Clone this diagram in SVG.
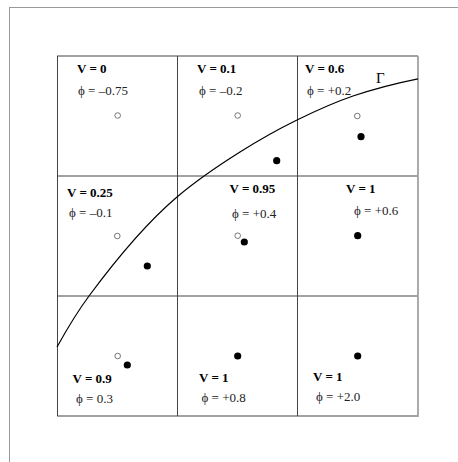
<svg xmlns="http://www.w3.org/2000/svg" width="458" height="462" viewBox="0 0 458 462">
<style>
.v{font-weight:bold;font-size:13px;fill:#000}
.p{font-size:13px;fill:#222}
.g{stroke:#444;stroke-width:1;fill:none}
.o{fill:#fff;stroke:#555;stroke-width:0.8}
.f{fill:#000}
</style>
<rect width="458" height="462" fill="#fff"/>
<g id="frame">
<line x1="9" y1="7.5" x2="458" y2="7.5" stroke="#999" stroke-width="1"/>
<line x1="9.5" y1="7" x2="9.5" y2="462" stroke="#999" stroke-width="1"/>
</g>
<g id="grid">
<line class="g" x1="57" y1="56" x2="418" y2="56" stroke="#888"/>
<line class="g" x1="57" y1="176" x2="418" y2="176"/>
<line class="g" x1="57" y1="296" x2="418" y2="296"/>
<line class="g" x1="57" y1="416" x2="418" y2="416"/>
<line class="g" x1="57.5" y1="56" x2="57.5" y2="416"/>
<line class="g" x1="177.5" y1="56" x2="177.5" y2="416"/>
<line class="g" x1="297.5" y1="56" x2="297.5" y2="416"/>
<line x1="418" y1="56" x2="418" y2="417" stroke="#aaa" stroke-width="2"/>
</g>
<g id="curve">
<path d="M57,347 C67.67,327.8 78.33,310.4 89,296 C118.33,256.4 147.67,221.9 177,197 C198,179.15 219,165.2 240,152 C259,140 278,129.3 297,120 C315.67,110.85 334.33,102.35 353,96 C374.33,88.75 395.67,83.27 418,78.8" fill="none" stroke="#000" stroke-width="1.2"/>
<text x="376" y="83" font-family="Liberation Serif, serif" font-size="15" fill="#000">Γ</text>
</g>
<g font-family="Liberation Serif, serif">
<g id="cell-0-0">
<text class="v" x="77" y="73">V = 0</text>
<text class="p" x="78" y="95">ϕ = –0.75</text>
<circle class="o" cx="117.7" cy="115.5" r="2.8"/>
</g>
<g id="cell-1-0">
<text class="v" x="197" y="73">V = 0.1</text>
<text class="p" x="199" y="95">ϕ = –0.2</text>
<circle class="o" cx="237.7" cy="115.5" r="2.8"/>
<circle class="f" cx="276.7" cy="160.7" r="3.6"/>
</g>
<g id="cell-2-0">
<text class="v" x="305" y="73">V = 0.6</text>
<text class="p" x="307" y="95">ϕ = +0.2</text>
<circle class="o" cx="357.3" cy="116" r="2.8"/>
<circle class="f" cx="361" cy="136.7" r="3.6"/>
</g>
<g id="cell-0-1">
<text class="v" x="67" y="197">V = 0.25</text>
<text class="p" x="69" y="217">ϕ = –0.1</text>
<circle class="o" cx="117.3" cy="236" r="2.8"/>
<circle class="f" cx="147.3" cy="266" r="3.6"/>
</g>
<g id="cell-1-1">
<text class="v" x="229.5" y="193">V = 0.95</text>
<text class="p" x="232" y="218">ϕ = +0.4</text>
<circle class="o" cx="237.7" cy="235.7" r="2.8"/>
<circle class="f" cx="244.3" cy="242" r="3.6"/>
</g>
<g id="cell-2-1">
<text class="v" x="346" y="193">V = 1</text>
<text class="p" x="354" y="215">ϕ = +0.6</text>
<circle class="f" cx="357.7" cy="235.7" r="3.6"/>
</g>
<g id="cell-0-2">
<text class="v" x="72.5" y="383">V = 0.9</text>
<text class="p" x="76" y="403">ϕ = 0.3</text>
<circle class="o" cx="117.7" cy="356" r="2.8"/>
<circle class="f" cx="127.3" cy="365" r="3.6"/>
</g>
<g id="cell-1-2">
<text class="v" x="199" y="382">V = 1</text>
<text class="p" x="201.5" y="402">ϕ = +0.8</text>
<circle class="f" cx="237.7" cy="356" r="3.6"/>
</g>
<g id="cell-2-2">
<text class="v" x="313" y="381">V = 1</text>
<text class="p" x="316" y="401">ϕ = +2.0</text>
<circle class="f" cx="357.7" cy="356" r="3.6"/>
</g>
</g>
</svg>
